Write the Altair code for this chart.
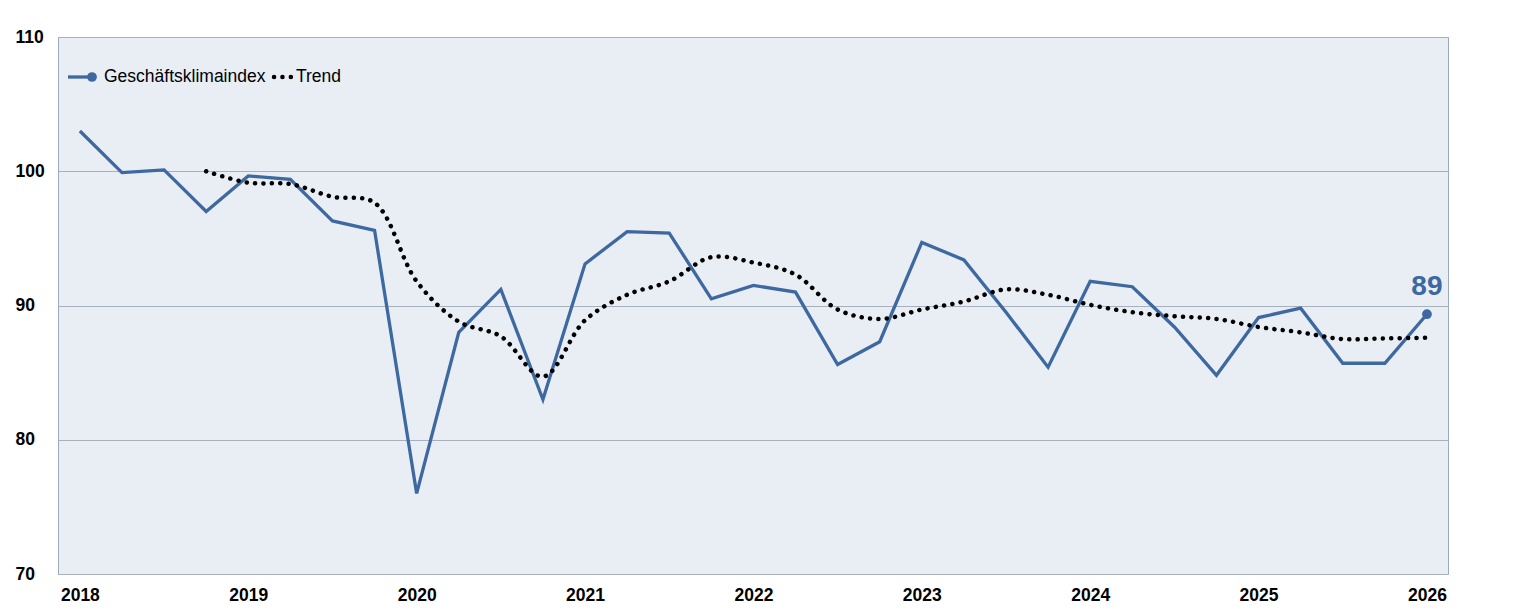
import altair as alt
import pandas as pd

# quarterly positions (year + quarter offset)
periods = [2018.00, 2018.25, 2018.50, 2018.75, 2019.00, 2019.25, 2019.50, 2019.75,
           2020.00, 2020.25, 2020.50, 2020.75, 2021.00, 2021.25, 2021.50, 2021.75,
           2022.00, 2022.25, 2022.50, 2022.75, 2023.00, 2023.25, 2023.50, 2023.75,
           2024.00, 2024.25, 2024.50, 2024.75, 2025.00, 2025.25, 2025.50, 2025.75,
           2026.00]

index_values = [103.0, 99.9, 100.1, 97.0, 99.65, 99.4, 96.3, 95.6,
                76.0, 88.0, 91.2, 83.0, 93.1, 95.5, 95.4, 90.5,
                91.5, 91.0, 85.6, 87.3, 94.7, 93.4, 89.5, 85.4,
                91.8, 91.4, 88.4, 84.8, 89.1, 89.8, 85.7, 85.7,
                89.35]

trend_periods = periods[3:]
trend_values = [100.0, 99.15, 99.05, 98.1, 97.65,
                91.8, 88.8, 87.7, 84.7, 88.9, 90.8, 91.8, 93.6,
                93.2, 92.3, 89.7, 89.0, 89.7, 90.3, 91.2, 90.8,
                90.05, 89.5, 89.2, 89.0, 88.4, 88.0, 87.5, 87.55,
                87.6]

year_ticks = [2018, 2019, 2020, 2021, 2022, 2023, 2024, 2025, 2026]
y_ticks = [70, 80, 90, 100, 110]

BLUE = "#3D68A0"
FONT = "Liberation Sans"

main_df = pd.DataFrame({"t": periods, "v": index_values})
trend_df = pd.DataFrame({"t": trend_periods, "v": trend_values})
last_df = main_df.tail(1)

x_scale = alt.Scale(domain=[2017.87, 2026.125], nice=False, zero=False)
y_scale = alt.Scale(domain=[70, 110], nice=False, zero=False)

x_enc = alt.X("t:Q", scale=x_scale,
              axis=alt.Axis(values=year_ticks, format="d", grid=False, ticks=False,
                            domain=False, labelFont=FONT, labelFontSize=17.5,
                            labelFontWeight="bold", labelColor="#000000",
                            labelPadding=12, title=None, labelFlush=False))
y_enc = alt.Y("v:Q", scale=y_scale,
              axis=alt.Axis(values=y_ticks, grid=True, gridColor="#A7B0BD", gridWidth=1,
                            ticks=False, domain=False, labelFont=FONT, labelFontSize=17.5,
                            labelFontWeight="bold", labelColor="#000000",
                            labelAlign="left", labelBaseline="middle",
                            labelPadding=43, title=None))

main_line = alt.Chart(main_df).mark_line(color=BLUE, strokeWidth=3.3).encode(x=x_enc, y=y_enc)

trend_line = alt.Chart(trend_df).mark_line(
    color="#000000", strokeWidth=4.5, strokeDash=[0.1, 8.3], strokeCap="round",
    interpolate="catmull-rom"
).encode(x="t:Q", y="v:Q")

last_point = alt.Chart(last_df).mark_circle(color=BLUE, size=95, opacity=1).encode(x="t:Q", y="v:Q")

last_label = alt.Chart(last_df).mark_text(
    color=BLUE, font=FONT, fontSize=28, fontWeight="bold", dy=-19,
    baseline="alphabetic", align="center"
).encode(x="t:Q", y="v:Q", text=alt.Text("v:Q", format=".0f"))

# legend (decorative, inside the plot area)
leg_line = alt.Chart(main_df.head(1)).mark_rule(color=BLUE, strokeWidth=3.3).encode(
    x=alt.value(10), x2=alt.value(34), y=alt.value(40))
leg_dot = alt.Chart(main_df.head(1)).mark_circle(color=BLUE, size=95, opacity=1).encode(
    x=alt.value(34), y=alt.value(40))
leg_text1 = alt.Chart(main_df.head(1)).mark_text(
    font=FONT, fontSize=17.5, color="#000000", align="left", baseline="middle"
).encode(x=alt.value(46), y=alt.value(40), text=alt.value("Geschäftsklimaindex"))
leg_dots = alt.Chart(main_df.head(1)).mark_rule(
    color="#000000", strokeWidth=4.5, strokeDash=[0.1, 8.3], strokeCap="round").encode(
    x=alt.value(216), x2=alt.value(234), y=alt.value(40))
leg_text2 = alt.Chart(main_df.head(1)).mark_text(
    font=FONT, fontSize=17.5, color="#000000", align="left", baseline="middle"
).encode(x=alt.value(238), y=alt.value(40), text=alt.value("Trend"))

chart = alt.layer(
    main_line, trend_line, last_point, last_label,
    leg_line, leg_dot, leg_text1, leg_dots, leg_text2
).properties(
    width=1390, height=537,
    autosize=alt.AutoSizeParams(type="none"),
    padding={"left": 50, "top": 29, "right": 60, "bottom": 30},
    background="#FFFFFF"
).configure_view(
    fill="#E9EEF5", stroke="#9DAABB", strokeWidth=1
)

chart.save("out.html", embed_options={"renderer": "svg", "actions": False})
